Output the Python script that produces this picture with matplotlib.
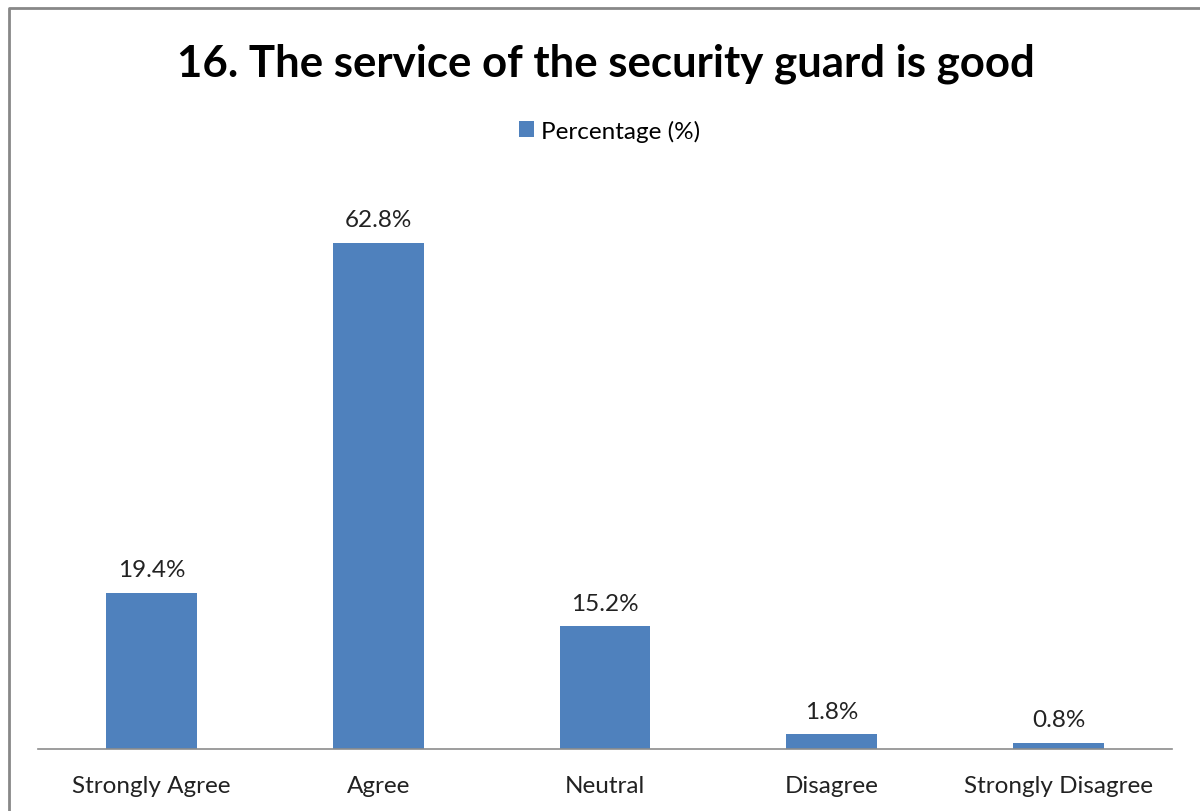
#!/usr/bin/env python3
# -*- coding: utf-8 -*-

import matplotlib
matplotlib.use('Agg')
import matplotlib.pyplot as plt
from matplotlib.lines import Line2D

categories = ['Strongly Agree', 'Agree', 'Neutral', 'Disagree', 'Strongly Disagree']
percentages = [19.4, 62.8, 15.2, 1.8, 0.8]
series_name = 'Percentage (%)'
title = '16. The service of the security guard is good'

BAR_COLOR = '#4F81BD'
AXIS_COLOR = '#8C8C8C'


def main():
    plt.rcParams['font.family'] = ['Lato', 'DejaVu Sans']

    fig = plt.figure(figsize=(12, 8.12), dpi=100)
    ax = fig.add_axes([0.0317, 0.0764, 0.945, 0.695])

    x = range(len(categories))
    bars = ax.bar(x, percentages, width=0.4, color=BAR_COLOR, label=series_name)

    for rect, val in zip(bars, percentages):
        ax.annotate(f'{val:.1f}%', (rect.get_x() + rect.get_width() / 2, rect.get_height()),
                    xytext=(0, 9), textcoords='offset points',
                    ha='center', va='bottom', fontsize=17.5, color='#222222')

    ax.set_xlim(-0.5, len(categories) - 0.5)
    ax.set_ylim(0, 70)
    ax.set_xticks(list(x))
    ax.set_xticklabels(categories, fontsize=17.5, color='#222222')
    ax.tick_params(axis='x', length=0, pad=19)
    ax.set_yticks([])
    for side in ('top', 'right', 'left'):
        ax.spines[side].set_visible(False)
    ax.spines['bottom'].set_color(AXIS_COLOR)
    ax.spines['bottom'].set_linewidth(1.2)

    fig.text(0.505, 0.922, title, ha='center', va='center',
             fontsize=31.5, fontweight='bold', color='black')

    fig.legend(handles=[bars], labels=[series_name], loc='center',
               bbox_to_anchor=(0.508, 0.838), frameon=False, fontsize=17.5,
               handlelength=0.6, handleheight=0.6, handletextpad=0.3)

    # chart border (left and top edges visible)
    fig.add_artist(Line2D([9 / 1200, 9 / 1200, 1.0], [0.0, 1 - 9 / 812, 1 - 9 / 812],
                          transform=fig.transFigure, color='#888888', lw=2))

    fig.savefig('out.png', dpi=100)


if __name__ == '__main__':
    main()
